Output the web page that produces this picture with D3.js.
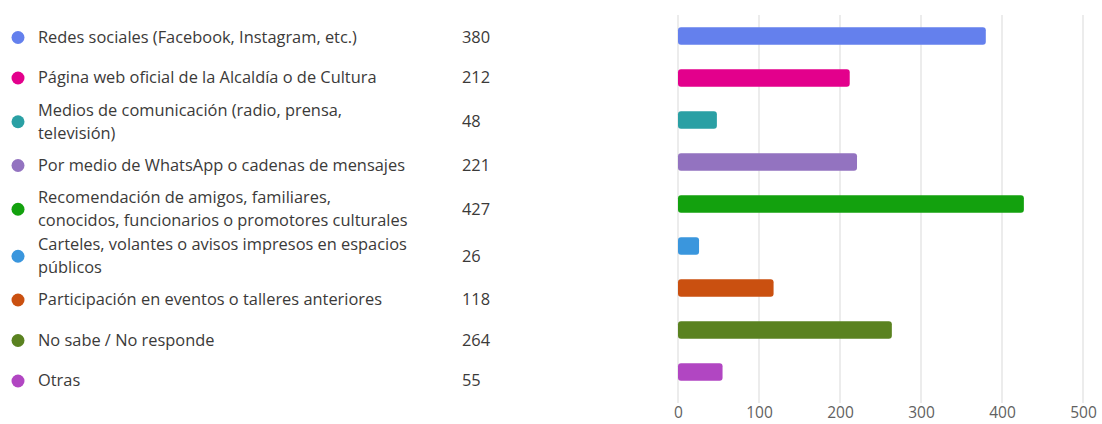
<!DOCTYPE html>
<html>
<head>
<meta charset="utf-8">
<script src="https://cdn.jsdelivr.net/npm/d3@7"></script>
<style>
  html, body { margin: 0; padding: 0; background: #ffffff; }
  svg { display: block; }
</style>
</head>
<body>
<svg id="chart" width="1102" height="424"></svg>
<script>
// ---- data ----
const categories = [
  "Redes sociales (Facebook, Instagram, etc.)",
  "Página web oficial de la Alcaldía o de Cultura",
  "Medios de comunicación (radio, prensa,\ntelevisión)",
  "Por medio de WhatsApp o cadenas de mensajes",
  "Recomendación de amigos, familiares,\nconocidos, funcionarios o promotores culturales",
  "Carteles, volantes o avisos impresos en espacios\npúblicos",
  "Participación en eventos o talleres anteriores",
  "No sabe / No responde",
  "Otras"
];
const values = [380, 212, 48, 221, 427, 26, 118, 264, 55];
const colors = ["#6480ED", "#E3008C", "#2AA0A4", "#9373C0", "#13A10E", "#3A96DD", "#CA5010", "#5A8220", "#B146C2"];
const xTicks = [0, 100, 200, 300, 400, 500];

// ---- layout ----
const svg = d3.select("#chart");
const FONT = "'Open Sans', 'Noto Sans', sans-serif";
const textColor = "#3b3a39";
const FS = 16.4;

const x = d3.scaleLinear().domain([0, 500]).range([678, 1083]);
const y = d3.scaleBand().domain(d3.range(categories.length))
  .range([15, 393]).paddingInner(0.58).paddingOuter(0.29);

// grid
const grid = svg.append("g");
grid.selectAll("line").data(xTicks).join("line")
  .attr("x1", d => x(d)).attr("x2", d => x(d))
  .attr("y1", 15).attr("y2", 403)
  .attr("stroke", "#e6e6e6").attr("stroke-width", 1.5);

// x axis labels
const axis = d3.axisBottom(x).tickValues(xTicks).tickSize(0).tickPadding(0);
const ax = svg.append("g").attr("transform", "translate(0,407)").call(axis);
ax.select(".domain").remove();
ax.selectAll("text").attr("font-family", FONT).attr("font-size", 15.5)
  .attr("fill", "#616161").attr("dy", "0.71em");

// bars
svg.append("g").selectAll("rect").data(values).join("rect")
  .attr("x", x(0))
  .attr("y", (d, i) => y(i))
  .attr("width", d => x(d) - x(0))
  .attr("height", y.bandwidth())
  .attr("rx", 3).attr("ry", 3)
  .attr("fill", (d, i) => colors[i]);

// legend
const lines = categories.map(c => c.split("\n"));
const rowH = n => (n > 1 ? 47 : 40.5);
const centers = [];
let cy = 37.5;
lines.forEach((l, i) => {
  if (i > 0) cy += (rowH(lines[i - 1].length) + rowH(l.length)) / 2;
  centers.push(cy);
});
const lineGap = 23;

const leg = svg.append("g").selectAll("g").data(categories).join("g")
  .attr("transform", (d, i) => `translate(0,${centers[i]})`);
leg.append("circle").attr("cx", 18).attr("cy", 0).attr("r", 6.5)
  .attr("fill", (d, i) => colors[i]);
leg.each(function (d, i) {
  const g = d3.select(this);
  const ls = lines[i];
  const t = g.append("text").attr("x", 38)
    .attr("font-family", FONT).attr("font-size", FS).attr("fill", textColor);
  ls.forEach((s, j) => {
    t.append("tspan").attr("x", 38)
      .attr("y", (j - (ls.length - 1) / 2) * lineGap)
      .attr("dy", "0.33em").text(s);
  });
  g.append("text").attr("x", 462).attr("y", 0).attr("dy", "0.33em")
    .attr("font-family", FONT).attr("font-size", FS).attr("fill", textColor)
    .text(values[i]);
});
</script>
</body>
</html>
